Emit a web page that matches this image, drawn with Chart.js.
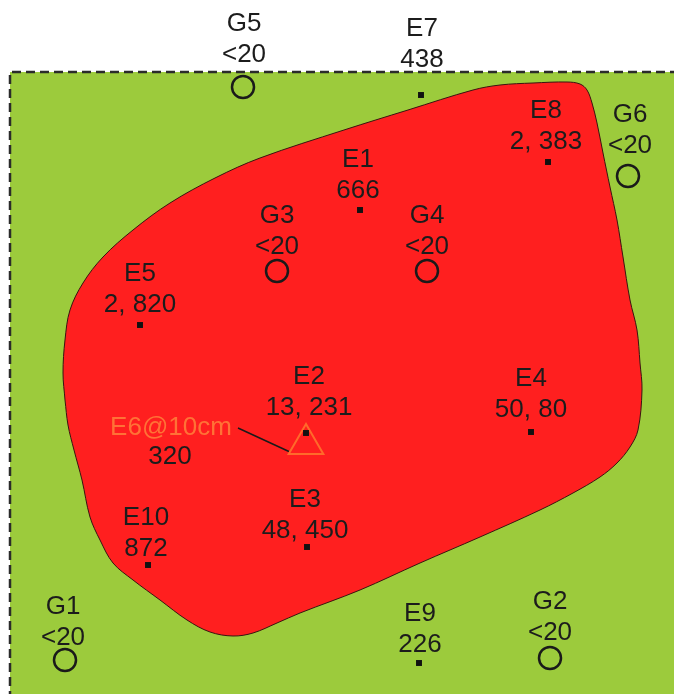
<!DOCTYPE html>
<html>
<head>
<meta charset="utf-8">
<title>Site map</title>
<script src="https://cdn.jsdelivr.net/npm/chart.js@4.4.1/dist/chart.umd.min.js"></script>
<style>
  html, body { margin: 0; padding: 0; background: #fff; overflow: hidden; }
  #map { display: block; }
</style>
</head>
<body>
<canvas id="map" width="674" height="694"></canvas>
<script>
// map coordinates are in pixels of the original drawing (x right, y down)

// sampling points (square markers)
const sampleNames  = ['E1', 'E2', 'E3', 'E4', 'E5', 'E7', 'E8', 'E9', 'E10'];
const sampleValues = ['666', '13, 231', '48, 450', '50, 80', '2, 820', '438', '2, 383', '226', '872'];
const sampleX      = [360, 306, 307, 531, 140, 421, 548, 419, 148];
const sampleY      = [210, 433, 547, 432, 325, 95, 162, 663, 565];
const sampleLabelX = [358, 309, 305, 531, 140, 422, 546, 420, 146];
const sampleLabelY = [160, 377, 500, 379, 274, 29, 111, 614, 518];

// background points (open circles)
const gaugeNames  = ['G1', 'G2', 'G3', 'G4', 'G5', 'G6'];
const gaugeValues = ['<20', '<20', '<20', '<20', '<20', '<20'];
const gaugeX      = [65, 550, 277, 427, 243, 628];
const gaugeY      = [660, 658, 271, 271, 87, 176];
const gaugeLabelX = [63, 550, 277, 427, 244, 630];
const gaugeLabelY = [607, 602, 216, 216, 24, 115];

// deep sample (triangle)
const deepName   = 'E6@10cm';
const deepValue  = '320';
const deepX      = [306];
const deepY      = [444];
const deepLabelX = 171;
const deepLabelY = 428;
const leaderX    = [238, 290];
const leaderY    = [428, 452];

// site boundary
const siteX   = [10, 680, 680, 10];
const siteY   = [72, 72, 700, 700];
const fenceX  = [10, 10, 680];
const fenceY  = [700, 72, 72];

// contaminated area outline
const plumeX = [65, 63, 65, 70, 83, 103, 133, 170, 215, 260, 344, 408, 473, 500, 533, 567, 580, 587, 592, 597, 603, 610, 617, 623, 630, 637, 640, 642, 638, 630, 617, 600, 573, 540, 480, 420, 360, 300, 277, 253, 233, 210, 187, 160, 133, 113, 100, 90, 82, 74, 68, 65];
const plumeY = [400, 373, 340, 310, 283, 257, 230, 203, 178, 158, 130, 110, 90, 85, 83, 82, 84, 90, 103, 123, 153, 187, 220, 257, 300, 330, 363, 390, 430, 447, 463, 477, 493, 510, 537, 563, 590, 613, 623, 633, 636, 632, 620, 600, 580, 563, 540, 517, 480, 450, 425, 400];

const toPoints = (xs, ys) => xs.map((x, i) => ({ x: x, y: ys[i] }));

const labelPlugin = {
    id: 'stationLabels',
    afterDatasetsDraw(chart) {
        const ctx = chart.ctx;
        const xs = chart.scales.x;
        const ys = chart.scales.y;
        ctx.save();
        ctx.font = '26px "Liberation Sans", Arial, sans-serif';
        ctx.textAlign = 'center';
        ctx.textBaseline = 'middle';
        ctx.fillStyle = '#1c1c1c';
        const draw = (names, values, lx, ly) => {
            names.forEach((n, i) => {
                const px = xs.getPixelForValue(lx[i]);
                const py = ys.getPixelForValue(ly[i]);
                ctx.fillText(n, px, py);
                ctx.fillText(values[i], px, py + 31);
            });
        };
        draw(sampleNames, sampleValues, sampleLabelX, sampleLabelY);
        draw(gaugeNames, gaugeValues, gaugeLabelX, gaugeLabelY);

        // E6 label: name in orange, value in black
        const dx = xs.getPixelForValue(deepLabelX);
        const dy = ys.getPixelForValue(deepLabelY);
        ctx.fillStyle = '#ff7236';
        ctx.fillText(deepName, dx, dy);
        ctx.fillStyle = '#1c1c1c';
        ctx.fillText(deepValue, dx - 1, dy + 29);
        ctx.restore();
    }
};

new Chart(document.getElementById('map'), {
    type: 'scatter',
    data: {
        datasets: [
            {
                label: 'site',
                data: toPoints(siteX, siteY),
                showLine: true,
                fill: 'shape',
                backgroundColor: '#9ccb3c',
                borderWidth: 0,
                pointRadius: 0,
                tension: 0,
                order: 10
            },
            {
                label: 'fence',
                data: toPoints(fenceX, fenceY),
                showLine: true,
                fill: false,
                borderColor: '#2b2b2b',
                borderWidth: 2.5,
                borderDash: [9, 5],
                pointRadius: 0,
                tension: 0,
                order: 9
            },
            {
                label: 'plume',
                data: toPoints(plumeX, plumeY),
                showLine: true,
                fill: 'shape',
                backgroundColor: '#ff1f1f',
                borderColor: '#3a1410',
                borderWidth: 1,
                pointRadius: 0,
                tension: 0.35,
                order: 8
            },
            {
                label: 'leader',
                data: toPoints(leaderX, leaderY),
                showLine: true,
                fill: false,
                borderColor: '#1a1a1a',
                borderWidth: 1.5,
                pointRadius: 0,
                order: 7
            },
            {
                label: 'E6',
                data: toPoints(deepX, deepY),
                pointStyle: 'triangle',
                pointRadius: 20,
                pointBorderWidth: 2,
                pointBorderColor: '#ff6a2a',
                pointBackgroundColor: 'rgba(0,0,0,0)',
                order: 6
            },
            {
                label: 'samples',
                data: toPoints(sampleX, sampleY),
                pointStyle: 'rect',
                pointRadius: 4.2,
                pointBorderWidth: 0,
                pointBackgroundColor: '#111111',
                pointBorderColor: '#111111',
                order: 5
            },
            {
                label: 'gauges',
                data: toPoints(gaugeX, gaugeY),
                pointStyle: 'circle',
                pointRadius: 11,
                pointBorderWidth: 2.5,
                pointBorderColor: '#1a1a1a',
                pointBackgroundColor: 'rgba(0,0,0,0)',
                order: 4
            }
        ]
    },
    options: {
        responsive: false,
        animation: false,
        events: [],
        layout: { padding: 0, autoPadding: false },
        plugins: {
            legend: { display: false },
            tooltip: { enabled: false }
        },
        scales: {
            x: { type: 'linear', min: 0, max: 674, display: false },
            y: { type: 'linear', min: 0, max: 694, reverse: true, display: false }
        }
    },
    plugins: [labelPlugin]
});
</script>
</body>
</html>
